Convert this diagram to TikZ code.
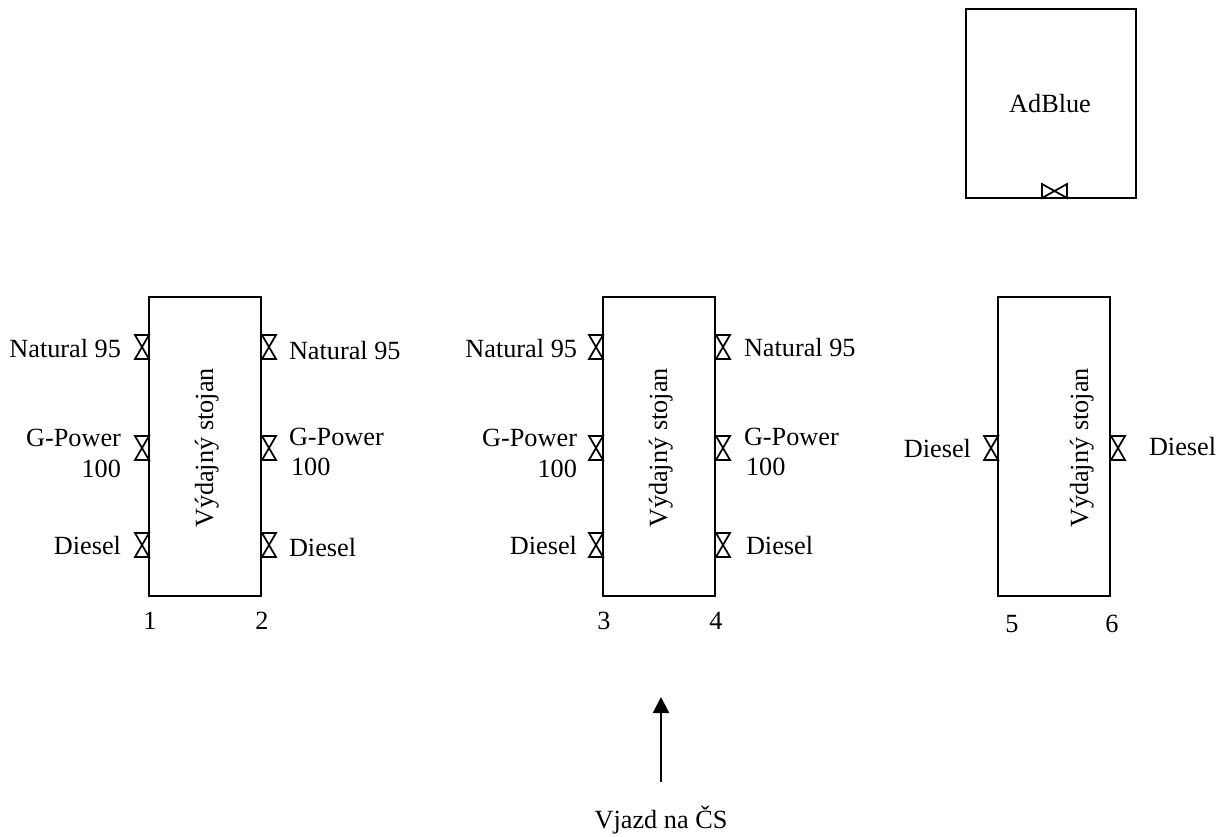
\documentclass[tikz,border=0pt]{standalone}
\usepackage{fontspec}
\setmainfont{Liberation Serif}
\usetikzlibrary{arrows.meta}
\newcommand{\valveV}[3]{% x-left, y-top, name
  \node[valvenode,minimum width=10.5pt,minimum height=18pt,anchor=north west] (#3) at (#1,#2) {};
  \draw[line] (#3.north west) -- (#3.north east) -- (#3.south west) -- (#3.south east) -- (#3.north west) -- cycle;
}
\tikzset{
  line/.style={draw=black,line width=1.3pt,line join=miter},
  valvenode/.style={inner sep=0pt,outer sep=0pt},
  boxnode/.style={draw=black,line width=1.3pt,inner sep=0pt,outer sep=0pt,anchor=north west},
  lab/.style={inner sep=0pt,outer sep=0pt,font=\fontsize{19.7}{23.25}\selectfont,text=black},
  labr/.style={lab,anchor=base east},
  labl/.style={lab,anchor=base west},
  labc/.style={lab,anchor=base},
  vert/.style={lab,anchor=base,rotate=90}
}
\begin{document}
\begin{tikzpicture}[x=0.75pt,y=-0.75pt]
\useasboundingbox (0,0) rectangle (1227,836);
% AdBlue
\node[boxnode,minimum width=127.5pt,minimum height=141.75pt] (ad) at (966,9) {};
\node[labc] (adt) at (1050,112) {AdBlue};
\node[valvenode,minimum width=18.75pt,minimum height=10.5pt,anchor=north west] (adv) at (1042,184) {};
\draw[line] (adv.north west) -- (adv.south west) -- (adv.north east) -- (adv.south east) -- (adv.north west) -- cycle;
% Stand 1
\node[boxnode,minimum width=84pt,minimum height=224.25pt] (s1) at (149,297) {};
\node[vert] (s1t) at (213,448) {Výdajný stojan};
\valveV{135}{335}{a1}\valveV{135}{436}{a2}\valveV{135}{533}{a3}
\valveV{262}{335}{a4}\valveV{262}{436}{a5}\valveV{262}{533}{a6}
\node[labr] (l1) at (121,357) {Natural 95};
\node[labr] (l2) at (121,446) {G-Power};
\node[labr] (l3) at (121,477) {100};
\node[labr] (l4) at (121,554) {Diesel};
\node[labl] (l5) at (289,359) {Natural 95};
\node[labl] (l6) at (289,445) {G-Power};
\node[labl] (l7) at (291,475) {100};
\node[labl] (l8) at (289,556) {Diesel};
\node[labc] (n1) at (150,629) {1};
\node[labc] (n2) at (262,629) {2};
% Stand 2
\node[boxnode,minimum width=84pt,minimum height=224.25pt] (s2) at (603,297) {};
\node[vert] (s2t) at (667,448) {Výdajný stojan};
\valveV{589}{335}{b1}\valveV{589}{436}{b2}\valveV{589}{533}{b3}
\valveV{716}{335}{b4}\valveV{716}{436}{b5}\valveV{716}{533}{b6}
\node[labr] (m1) at (577,357) {Natural 95};
\node[labr] (m2) at (577,446) {G-Power};
\node[labr] (m3) at (577,477) {100};
\node[labr] (m4) at (577,554) {Diesel};
\node[labl] (m5) at (744,356) {Natural 95};
\node[labl] (m6) at (744,445) {G-Power};
\node[labl] (m7) at (746,475) {100};
\node[labl] (m8) at (746,554) {Diesel};
\node[labc] (n3) at (604,629) {3};
\node[labc] (n4) at (716,629) {4};
% Stand 3
\node[boxnode,minimum width=84pt,minimum height=224.25pt] (s3) at (998,297) {};
\node[vert] (s3t) at (1088,448) {Výdajný stojan};
\valveV{984}{436}{c1}\valveV{1111}{436}{c2}
\node[labr] (p1) at (971,457) {Diesel};
\node[labl] (p2) at (1149,455) {Diesel};
\node[labc] (n5) at (1012,632) {5};
\node[labc] (n6) at (1112,632) {6};
% Arrow
\coordinate (from) at (661,782);
\coordinate (to) at (661,697);
\draw[line,line width=1.7pt,-{Triangle[length=12pt,width=12pt]}] (from) -- (to);
\node[labc] (v) at (661,828) {Vjazd na ČS};
\end{tikzpicture}
\end{document}
